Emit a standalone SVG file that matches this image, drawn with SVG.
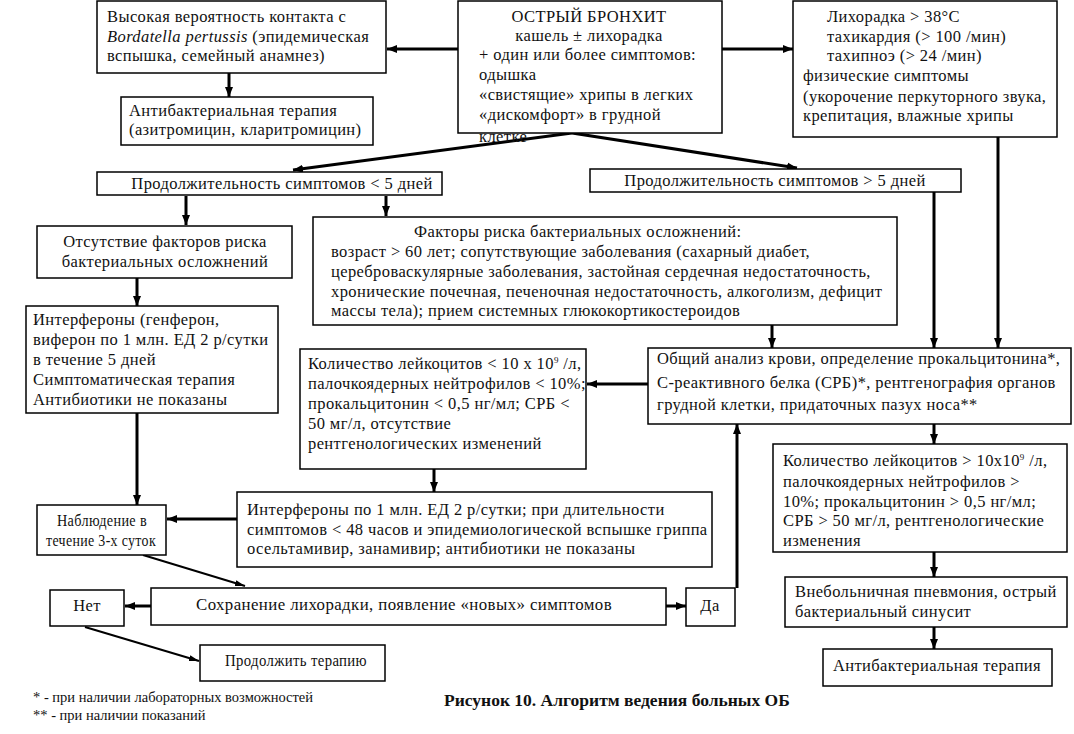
<svg xmlns="http://www.w3.org/2000/svg" width="1074" height="734" viewBox="0 0 1074 734">
<defs>
<style>
.box{fill:#fff;stroke:#000;stroke-width:1.5}
.t{font-family:"Liberation Serif","Times New Roman",serif;font-size:16.5px;letter-spacing:0.4px;fill:#111}
.c{text-anchor:middle}
.con{stroke:#000;stroke-width:3;fill:none;marker-end:url(#ah)}
.thin{stroke:#000;stroke-width:2;fill:none;marker-end:url(#ah2)}
.fn{font-family:"Liberation Serif","Times New Roman",serif;font-size:14.5px;fill:#111}
.cap{font-family:"Liberation Serif","Times New Roman",serif;font-size:17.5px;font-weight:bold;fill:#111}
</style>
<marker id="ah" markerUnits="userSpaceOnUse" markerWidth="10" markerHeight="10" viewBox="0 0 10 10" refX="10" refY="5" orient="auto"><path d="M0,1 L10,5 L0,9 Z" fill="#000"/></marker>
<marker id="ah2" markerUnits="userSpaceOnUse" markerWidth="10" markerHeight="10" viewBox="0 0 10 10" refX="10" refY="5" orient="auto"><path d="M0,2 L10,5 L0,8 Z" fill="#000"/></marker>
</defs>
<rect width="1074" height="734" fill="#fff"/>

<g id="connectors">
<line class="con" x1="458" y1="49" x2="387" y2="49"/>
<line class="con" x1="722" y1="49" x2="793" y2="49"/>
<line class="con" x1="229" y1="73" x2="229" y2="97"/>
<line class="con" x1="572" y1="133" x2="293" y2="170"/>
<line class="con" x1="572" y1="133" x2="797" y2="168"/>
<line class="con" x1="186" y1="196" x2="186" y2="225"/>
<line class="con" x1="386" y1="196" x2="386" y2="216"/>
<line class="con" x1="137" y1="278" x2="137" y2="306"/>
<line class="con" x1="772" y1="325" x2="772" y2="348"/>
<line class="con" x1="934" y1="192" x2="934" y2="348"/>
<line class="con" x1="998" y1="137" x2="998" y2="348"/>
<line class="con" x1="648" y1="384" x2="587" y2="384"/>
<line class="con" x1="934" y1="424" x2="934" y2="444"/>
<line class="con" x1="434" y1="469" x2="434" y2="492"/>
<line class="con" x1="237" y1="519" x2="167" y2="519"/>
<line class="con" x1="137" y1="413" x2="137" y2="505"/>
<line class="thin" x1="143" y1="555" x2="245" y2="586"/>
<line class="con" x1="151" y1="606" x2="125" y2="606"/>
<line class="con" x1="666" y1="606" x2="686" y2="606"/>
<line class="con" x1="737" y1="588" x2="737" y2="424"/>
<line class="thin" x1="85" y1="627" x2="199" y2="661"/>
<line class="con" x1="934" y1="552" x2="934" y2="577"/>
<line class="con" x1="934" y1="627" x2="934" y2="649"/>
</g>

<g id="nodeA">
<rect class="box" x="97" y="1" width="289" height="72"/>
<text class="t" x="107" y="22">Высокая вероятность контакта с</text>
<text class="t" x="107" y="42"><tspan font-style="italic">Bordatella pertussis</tspan> (эпидемическая</text>
<text class="t" x="107" y="61">вспышка, семейный анамнез)</text>
</g>

<g id="nodeB">
<rect class="box" x="121" y="97" width="252" height="48"/>
<text class="t" x="129" y="116">Антибактериальная терапия</text>
<text class="t" x="129" y="135">(азитромицин, кларитромицин)</text>
</g>

<g id="nodeC">
<rect x="458" y="1" width="264" height="132" fill="#fff"/>
<text class="t" x="479" y="142">клетке</text>
<text class="t c" x="589" y="22">ОСТРЫЙ БРОНХИТ</text>
<text class="t c" x="589" y="41">кашель ± лихорадка</text>
<text class="t" x="479" y="60">+ один или более симптомов:</text>
<text class="t" x="479" y="80">одышка</text>
<text class="t" x="479" y="100">«свистящие» хрипы в легких</text>
<text class="t" x="479" y="120">«дискомфорт» в грудной</text>
<rect x="458" y="1" width="264" height="132" fill="none" stroke="#000" stroke-width="1.5"/>
</g>

<g id="nodeD">
<rect class="box" x="793" y="1" width="264" height="136"/>
<text class="t" x="827" y="22">Лихорадка &gt; 38°С</text>
<text class="t" x="827" y="42">тахикардия (&gt; 100 /мин)</text>
<text class="t" x="827" y="61">тахипноэ (&gt; 24 /мин)</text>
<text class="t" x="803" y="81">физические симптомы</text>
<text class="t" x="803" y="102">(укорочение перкуторного звука,</text>
<text class="t" x="803" y="121">крепитация, влажные хрипы</text>
</g>

<g id="nodeE">
<rect class="box" x="97" y="172" width="345" height="23"/>
<text class="t c" x="282" y="189">Продолжительность симптомов &lt; 5 дней</text>
</g>

<g id="nodeF">
<rect class="box" x="590" y="169" width="371" height="23"/>
<text class="t c" x="775" y="186">Продолжительность симптомов &gt; 5 дней</text>
</g>

<g id="nodeG">
<rect class="box" x="37" y="226" width="255" height="52"/>
<text class="t c" x="165" y="247">Отсутствие факторов риска</text>
<text class="t c" x="165" y="267">бактериальных осложнений</text>
</g>

<g id="nodeH">
<rect class="box" x="313" y="217" width="584" height="108"/>
<text class="t" x="414" y="237">Факторы риска бактериальных осложнений:</text>
<text class="t" x="331" y="257">возраст &gt; 60 лет; сопутствующие заболевания (сахарный диабет,</text>
<text class="t" x="331" y="277">цереброваскулярные заболевания, застойная сердечная недостаточность,</text>
<text class="t" x="331" y="297">хронические почечная, печеночная недостаточность, алкоголизм, дефицит</text>
<text class="t" x="331" y="316">массы тела); прием системных глюкокортикостероидов</text>
</g>

<g id="nodeI">
<rect class="box" x="26" y="306" width="252" height="107"/>
<text class="t" x="33" y="325">Интерфероны (генферон,</text>
<text class="t" x="33" y="345">виферон по 1 млн. ЕД 2 р/сутки</text>
<text class="t" x="33" y="365">в течение 5 дней</text>
<text class="t" x="33" y="385">Симптоматическая терапия</text>
<text class="t" x="33" y="405">Антибиотики не показаны</text>
</g>

<g id="nodeJ">
<rect class="box" x="300" y="349" width="286" height="120"/>
<text class="t" x="308" y="369">Количество лейкоцитов &lt; 10 x 10<tspan font-size="9" dy="-6">9</tspan><tspan dy="6"> /л,</tspan></text>
<text class="t" x="308" y="389">палочкоядерных нейтрофилов &lt; 10%;</text>
<text class="t" x="308" y="409">прокальцитонин &lt; 0,5 нг/мл; СРБ &lt;</text>
<text class="t" x="308" y="429">50 мг/л, отсутствие</text>
<text class="t" x="308" y="449">рентгенологических изменений</text>
</g>

<g id="nodeK">
<rect class="box" x="648" y="348" width="423" height="76"/>
<text class="t" x="657" y="364">Общий анализ крови, определение прокальцитонина*,</text>
<text class="t" x="657" y="388">С-реактивного белка (СРБ)*, рентгенография органов</text>
<text class="t" x="657" y="410">грудной клетки, придаточных пазух носа**</text>
</g>

<g id="nodeL">
<rect class="box" x="773" y="444" width="294" height="108"/>
<text class="t" x="783" y="466">Количество лейкоцитов &gt; 10x10<tspan font-size="9" dy="-6">9</tspan><tspan dy="6"> /л,</tspan></text>
<text class="t" x="783" y="487">палочкоядерных нейтрофилов &gt;</text>
<text class="t" x="783" y="507">10%; прокальцитонин &gt; 0,5 нг/мл;</text>
<text class="t" x="783" y="526">СРБ &gt; 50 мг/л, рентгенологические</text>
<text class="t" x="783" y="546">изменения</text>
</g>

<g id="nodeM">
<rect class="box" x="237" y="492" width="475" height="75"/>
<text class="t" x="247" y="515">Интерфероны по 1 млн. ЕД 2 р/сутки; при длительности</text>
<text class="t" x="247" y="535">симптомов &lt; 48 часов и эпидемиологической вспышке гриппа</text>
<text class="t" x="247" y="554">осельтамивир, занамивир; антибиотики не показаны</text>
</g>

<g id="nodeN">
<rect class="box" x="37" y="505" width="129" height="50"/>
<text class="t c" x="102" y="526" textLength="90" lengthAdjust="spacingAndGlyphs">Наблюдение в</text>
<text class="t c" x="101" y="546" textLength="110" lengthAdjust="spacingAndGlyphs">течение 3-х суток</text>
</g>

<g id="nodeO">
<rect class="box" x="151" y="588" width="515" height="37"/>
<text class="t c" x="404" y="610" textLength="416" lengthAdjust="spacingAndGlyphs">Сохранение лихорадки, появление «новых» симптомов</text>
</g>

<g id="nodeP">
<rect class="box" x="50" y="590" width="74" height="36"/>
<text class="t c" x="87" y="611">Нет</text>
</g>

<g id="nodeQ">
<rect class="box" x="686" y="588" width="49" height="38"/>
<text class="t c" x="710" y="611">Да</text>
</g>

<g id="nodeR">
<rect class="box" x="200" y="645" width="185" height="36"/>
<text class="t c" x="296" y="666" textLength="142" lengthAdjust="spacingAndGlyphs">Продолжить терапию</text>
</g>

<g id="nodeS">
<rect class="box" x="785" y="577" width="282" height="50"/>
<text class="t" x="795" y="597">Внебольничная пневмония, острый</text>
<text class="t" x="795" y="617">бактериальный синусит</text>
</g>

<g id="nodeT">
<rect class="box" x="823" y="649" width="229" height="37"/>
<text class="t c" x="937" y="671">Антибактериальная терапия</text>
</g>

<g id="notes">
<text class="fn" x="33" y="702">* - при наличии лабораторных возможностей</text>
<text class="fn" x="33" y="720">** - при наличии показаний</text>
<text class="cap" x="444" y="706">Рисунок 10. Алгоритм ведения больных ОБ</text>
</g>
</svg>
